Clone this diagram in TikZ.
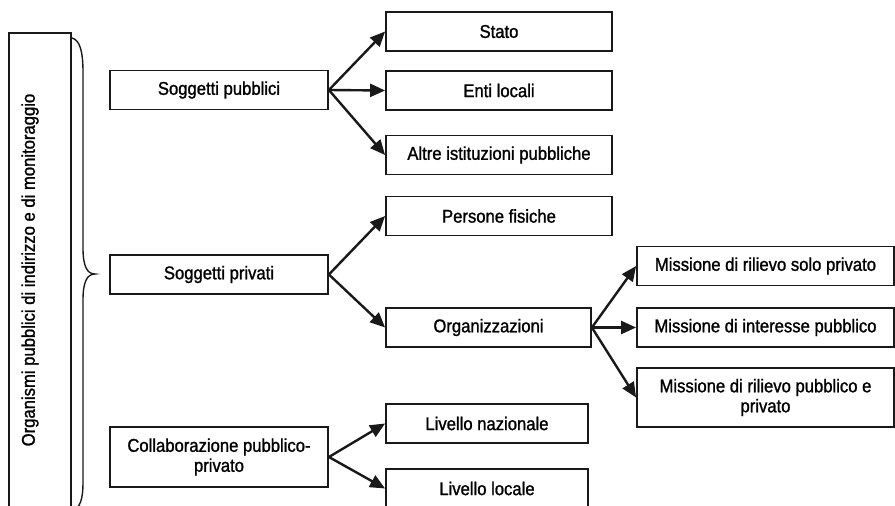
\documentclass[tikz,border=0pt]{standalone}
\usepackage{fontspec}
\setmainfont[FakeStretch=0.9,FakeBold=1.2]{Liberation Sans}
\usetikzlibrary{arrows.meta,positioning}

\begin{document}
\begin{tikzpicture} [x=1pt,y=-1pt,{box/.style={rectangle,draw=black!90,line width=1.8pt,minimum height=39pt,inner sep=0pt,align=center,font=\fontsize{18.5}{20}\selectfont}},{arr/.style={-{Triangle[length=15pt,width=13pt]},draw=black!90,line width=2.4pt}}]
	%%page
	\useasboundingbox (0,0) rectangle (895,506);
	%%left frame with title
	\draw [line width=1.8pt,black!90] (9,33) rectangle (71,530);
	\node [rotate=90,inner sep=0pt,font=\fontsize{18.5}{20}\selectfont] (organi) at (30,270) {Organismi pubblici di indirizzo e di monitoraggio};
	%%brace
	\draw [line width=1.4pt,black!90] (72,38) .. controls (80,40) and (83,52) .. (83,72) -- (83,248) .. controls (83,266) and (87,274) .. (95,274) .. controls (87,274) and (83,282) .. (83,300) -- (83,482) .. controls (83,500) and (80,508) .. (72,511);
	%%first level
	\node [box,minimum width=218pt] (pub) at (219,90) {Soggetti pubblici};
	\node [box,minimum width=218pt] (priv) at (219,274.5) {Soggetti privati};
	\node [box,minimum width=218pt,minimum height=60pt] (collab) at (219,457) {Collaborazione pubblico-\\privato};
	%%second level
	\node [box,minimum width=226pt] (stato) at (499,31.5) {Stato};
	\node [box,minimum width=226pt] (enti) at (499,90.5) {Enti locali};
	\node [box,minimum width=226pt] (altre) at (499,155) {Altre istituzioni pubbliche};
	\node [box,minimum width=226pt] (persone) at (499,216) {Persone fisiche};
	\node [box,minimum width=205pt] (org) at (488.5,327.5) {Organizzazioni};
	\node [box,minimum width=202pt] (naz) at (487,423.5) {Livello nazionale};
	\node [box,minimum width=202pt] (locale) at (487,488.5) {Livello locale};
	%%third level
	\node [box,minimum width=257pt] (solopriv) at (765.5,266) {Missione di rilievo solo privato};
	\node [box,minimum width=257pt] (interesse) at (765.5,327.5) {Missione di interesse pubblico};
	\node [box,minimum width=257pt,minimum height=59pt] (pubpriv) at (765.5,397.5) {Missione di rilievo pubblico e\\privato};
	%%arrows
	\draw [arr] (pub.east) -- (stato.west);
	\draw [arr] (pub.east) -- (enti.west);
	\draw [arr] (pub.east) -- (altre.west);
	\draw [arr] (priv.east) -- (persone.west);
	\draw [arr] (priv.east) -- (org.west);
	\draw [arr] (collab.east) -- (naz.west);
	\draw [arr] (collab.east) -- (locale.west);
	\draw [arr] (org.east) -- (solopriv.west);
	\draw [arr] (org.east) -- (interesse.west);
	\draw [arr] (org.east) -- (pubpriv.west);
\end{tikzpicture}
\end{document}
